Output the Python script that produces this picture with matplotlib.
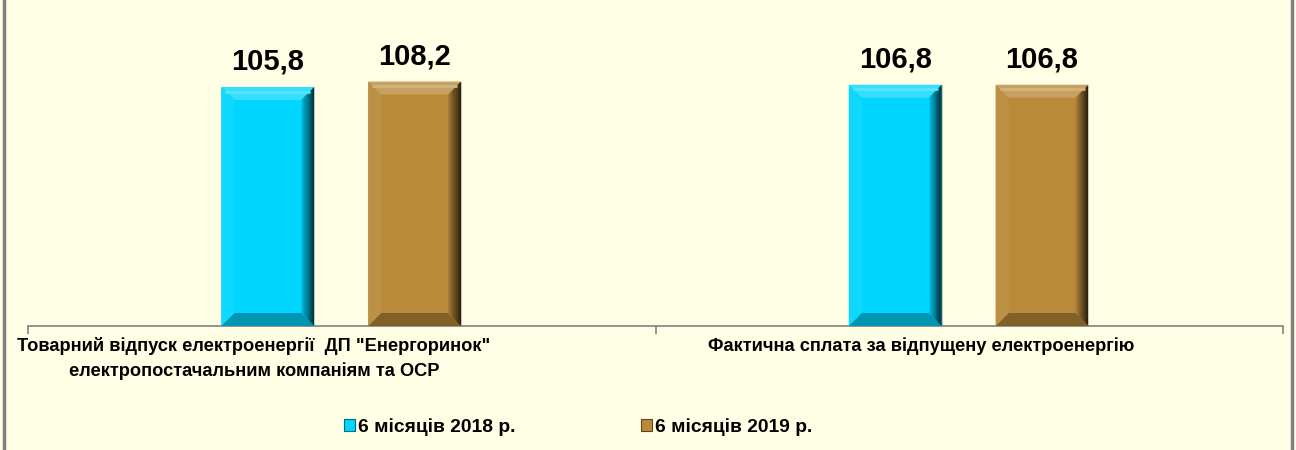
import numpy as np
import matplotlib
matplotlib.use("Agg")
import matplotlib.pyplot as plt
from matplotlib import font_manager as fm
from matplotlib.patches import Polygon, Patch
from matplotlib.lines import Line2D
from matplotlib.colors import to_rgb

# data
categories = ['Товарний відпуск електроенергії  ДП "Енергоринок"\nелектропостачальним компаніям та ОСР',
              'Фактична сплата за відпущену електроенергію']
series_names = ['6 місяців 2018 р.', '6 місяців 2019 р.']
values_2018 = [105.8, 106.8]
values_2019 = [108.2, 106.8]

BG = '#FFFFE6'
COLORS = ['#00D6FF', '#B98A39']

installed = {f.name for f in fm.fontManager.ttflist}
NARROW = 'Liberation Sans Narrow' if 'Liberation Sans Narrow' in installed else 'Liberation Sans'
narrow_scale = 1.0 if NARROW == 'Liberation Sans Narrow' else 0.73

W, H = 1296, 450
fig = plt.figure(figsize=(W / 100, H / 100), dpi=100, facecolor=BG)
ax_l, ax_r, ax_b, ax_t = 28, 1283, 124, 410
ax = fig.add_axes([ax_l / W, ax_b / H, (ax_r - ax_l) / W, (ax_t - ax_b) / H])
ax.set_facecolor(BG)
ax.set_xlim(-0.5, 1.5)
px_per_y = 239 / 105.8
ax.set_ylim(0, (ax_t - ax_b) / px_per_y)

x = np.arange(len(categories))
offsets = [-0.118, 0.116]
width = 0.148


def shade(c, f):
    r = np.array(to_rgb(c))
    if f >= 0:
        return tuple(r + (1 - r) * f)
    return tuple(r * (1 + f))


def bevel_bar(x0, x1, y1, color):
    y0 = 0.0
    bx = 13 / (ax_r - ax_l) * 2.0
    by = 13 / px_per_y
    ax.add_patch(Polygon([(x0, y0), (x1, y0), (x1, y1), (x0, y1)], closed=True,
                         facecolor=color, edgecolor='#C8C8B0', lw=0.8, zorder=2))
    top = [(x0, y1), (x1, y1), (x1 - bx, y1 - by), (x0 + bx, y1 - by)]
    bot = [(x0, y0), (x1, y0), (x1 - bx, y0 + by), (x0 + bx, y0 + by)]
    left = [(x0, y0), (x0 + bx, y0 + by), (x0 + bx, y1 - by), (x0, y1)]
    ax.add_patch(Polygon(top, closed=True, facecolor=shade(color, 0.2), lw=0, zorder=3))
    ax.add_patch(Polygon(bot, closed=True, facecolor=shade(color, -0.3), lw=0, zorder=3))
    ax.add_patch(Polygon(left, closed=True, facecolor=shade(color, 0.06), lw=0, zorder=3))
    # right side: gradient strips clipped to the trapezoid
    right = Polygon([(x1, y0), (x1 - bx, y0 + by), (x1 - bx, y1 - by), (x1, y1)],
                    closed=True, facecolor='none', lw=0)
    ax.add_patch(right)
    n = 12
    for i in range(n):
        xa = x1 - bx + bx * i / n
        xb = x1 - bx + bx * (i + 1) / n
        s = ax.fill_between([xa, xb], y0, y1, color=shade(color, -0.1 - 0.72 * i / n),
                            lw=0, zorder=3)
        s.set_clip_path(right)
    ax.plot([x0 + bx * 0.3, x1 - bx * 0.3], [y1 - by * 0.35, y1 - by * 0.35],
            color=shade(color, 0.35), lw=2, zorder=4, solid_capstyle='butt')


for vals, off, col in zip([values_2018, values_2019], offsets, COLORS):
    for xi, v in zip(x, vals):
        cx = xi + off
        bevel_bar(cx - width / 2, cx + width / 2, v, col)
        ax.annotate(f'{v:.1f}'.replace('.', ','), (cx, v), xytext=(0, 8),
                    textcoords='offset points', ha='center', va='bottom',
                    fontsize=21, fontweight='bold', family='Liberation Sans',
                    color='#000000', zorder=5)

for s in ['left', 'right', 'top']:
    ax.spines[s].set_visible(False)
ax.spines['bottom'].set_color('#808080')
ax.spines['bottom'].set_linewidth(1.2)
ax.set_yticks([])
ax.set_xticks([-0.5, 0.5, 1.5])
ax.set_xticklabels([])
ax.tick_params(axis='x', direction='out', length=6, color='#808080', width=1.2)

# category labels (Excel-like placement, slightly left of centre)
label_x = [-0.140, 0.923]
for lx, cat in zip(label_x, categories):
    ax.text(lx, -0.04, cat, transform=ax.get_xaxis_transform(), ha='center', va='top',
            fontsize=18 * narrow_scale, fontweight='bold', family=NARROW,
            linespacing=1.5, color='#000000')

handles = [Patch(facecolor=COLORS[0], edgecolor=shade(COLORS[0], -0.5), lw=0.8),
           Patch(facecolor=COLORS[1], edgecolor=shade(COLORS[1], -0.5), lw=0.8)]
fig.legend(handles, series_names, loc='center', bbox_to_anchor=(578 / W, 1 - 427 / H),
           ncol=2, frameon=False, handlelength=0.6, handleheight=0.6,
           handletextpad=0.15, columnspacing=6.5,
           prop={'family': NARROW, 'weight': 'bold', 'size': 19 * narrow_scale})

# outer border
for xb in (4 / W, 1292 / W):
    fig.add_artist(Line2D([xb, xb], [0, 1], color='#808080', lw=2.5,
                          transform=fig.transFigure))

fig.savefig('out.png', dpi=100, facecolor=BG)
